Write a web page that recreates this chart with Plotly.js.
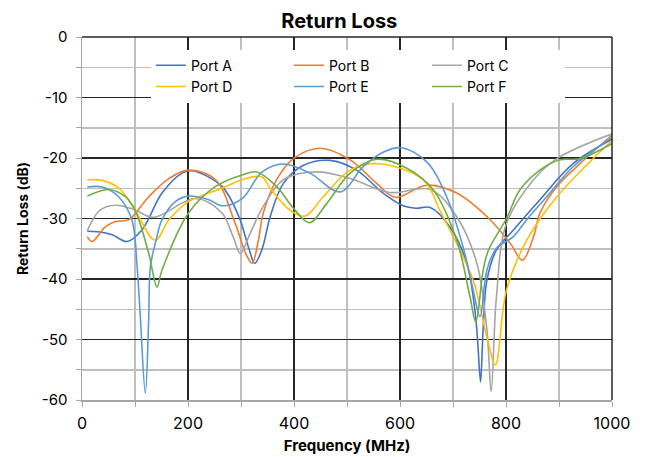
<!DOCTYPE html>
<html>
<head>
<meta charset="utf-8">
<script src="https://cdn.plot.ly/plotly-3.0.1.min.js"></script>
<style>html,body{margin:0;padding:0;background:#fff;}#chart{width:650px;height:457px;}</style>
</head>
<body>
<div id="chart"></div>
<script>
// ---- data (frequency in MHz, return loss in dB) ----
const seriesNames = ["Port A", "Port B", "Port C", "Port D", "Port E", "Port F"];
const seriesColors = ["#4472C4", "#ED7D31", "#A5A5A5", "#FFC000", "#5B9BD5", "#70AD47"];

const freqA = [10, 30, 57, 85, 113, 151, 189, 208, 264, 296, 315, 326, 340, 355, 380, 418, 468, 518, 568, 606, 630, 657, 694, 726, 742, 747, 752, 757, 764, 782, 814, 864, 927, 1000];
const lossA = [-32.1, -32.2, -32.7, -33.8, -31.9, -25.8, -22.5, -22.1, -24.7, -29.7, -35.0, -37.4, -35.0, -29.7, -24.2, -21.2, -20.4, -22.0, -25.8, -27.9, -28.3, -28.2, -31.4, -37.4, -45.7, -51.0, -57.0, -48.0, -40.2, -35.2, -31.9, -26.9, -20.9, -16.9];

const freqB = [10, 19, 44, 63, 88, 126, 164, 201, 252, 289, 310, 321, 333, 342, 367, 399, 449, 506, 556, 591, 650, 707, 770, 808, 831, 852, 864, 896, 940, 1000];
const lossB = [-33.0, -33.8, -31.4, -30.5, -30.2, -26.4, -23.4, -22.0, -23.6, -30.8, -36.0, -37.4, -33.5, -29.1, -23.6, -20.1, -18.4, -20.3, -24.2, -26.5, -24.5, -25.8, -30.2, -34.1, -36.9, -33.0, -29.1, -24.7, -20.9, -16.2];

const freqC = [10, 34, 65, 100, 135, 214, 264, 285, 299, 317, 342, 380, 443, 506, 581, 657, 707, 745, 764, 772, 782, 801, 852, 896, 1000];
const lossC = [-32.0, -28.6, -27.8, -28.6, -29.8, -26.7, -29.1, -33.0, -35.8, -32.5, -28.0, -23.6, -22.3, -23.4, -25.7, -25.2, -29.7, -37.4, -48.4, -58.6, -42.9, -30.8, -23.6, -20.1, -16.0];

const freqD = [10, 38, 70, 100, 138, 164, 201, 264, 302, 339, 355, 392, 421, 455, 506, 556, 644, 675, 694, 738, 765, 780, 801, 839, 896, 1000];
const lossD = [-23.6, -23.7, -25.0, -28.6, -33.6, -30.2, -27.2, -25.0, -23.6, -23.1, -25.0, -28.6, -29.6, -26.4, -22.0, -20.9, -23.6, -28.6, -31.9, -40.2, -50.0, -54.2, -41.8, -33.6, -26.4, -17.1];

const freqE = [10, 38, 69, 94, 104, 110, 119.5, 126, 129, 140, 151, 176, 201, 239, 264, 302, 340, 380, 430, 487, 531, 569, 602, 650, 688, 719, 738, 751, 764, 782, 814, 839, 877, 927, 1000];
const lossE = [-24.8, -24.8, -26.4, -30.2, -38.0, -46.2, -58.9, -46.2, -38.0, -33.5, -30.2, -27.2, -26.3, -26.9, -27.9, -26.7, -22.3, -21.0, -22.5, -25.6, -21.4, -19.0, -18.3, -20.6, -26.4, -34.7, -41.8, -46.2, -38.5, -34.9, -33.0, -30.2, -26.4, -21.4, -16.6];

const freqF = [10, 50, 82, 100, 126, 141.5, 151, 201, 252, 302, 330, 367, 399, 429, 462, 506, 556, 613, 663, 707, 732, 743, 757, 767, 801, 826, 864, 902, 940, 1000];
const lossF = [-26.3, -25.2, -26.4, -28.6, -35.8, -41.3, -38.5, -29.1, -24.7, -22.8, -22.3, -24.7, -28.3, -30.7, -27.5, -22.5, -20.2, -21.7, -25.3, -33.6, -42.9, -47.1, -38.5, -35.2, -30.0, -25.3, -22.0, -20.3, -20.1, -17.6];

const xTickVals = [0, 200, 400, 600, 800, 1000];
const xTickText = ["0", "200", "400", "600", "800", "1000"];
const yTickVals = [0, -10, -20, -30, -40, -50, -60];
const yTickText = ["0", "-10", "-20", "-30", "-40", "-50", "-60"];

const freqs = [freqA, freqB, freqC, freqD, freqE, freqF];
const losses = [lossA, lossB, lossC, lossD, lossE, lossF];

const FONT = "Inter, 'Noto Sans', sans-serif";

const traces = seriesNames.map((name, i) => ({
  type: "scatter",
  mode: "lines",
  name: name,
  x: freqs[i],
  y: losses[i],
  line: { color: seriesColors[i], width: 1.6, shape: "spline", smoothing: 1.0 },
  hoverinfo: "skip"
}));

const layout = {
  width: 650,
  height: 457,
  margin: { l: 82, r: 38, t: 37, b: 57 },
  paper_bgcolor: "#ffffff",
  plot_bgcolor: "#ffffff",
  font: { family: FONT, size: 15, color: "#000" },
  title: {
    text: "<b>Return Loss</b>",
    font: { family: FONT, size: 20, color: "#000" },
    x: 0.522, xanchor: "center",
    y: 0.955, yanchor: "middle", yref: "container"
  },
  showlegend: true,
  legend: {
    orientation: "h",
    x: 0.13, xanchor: "left",
    y: 0.965, yanchor: "top",
    bgcolor: "#ffffff",
    borderwidth: 0,
    entrywidth: 93,
    entrywidthmode: "pixels",
    itemwidth: 30,
    traceorder: "normal",
    font: { family: FONT, size: 14, color: "#000" }
  },
  shapes: [
    { type: "line", xref: "paper", yref: "paper", x0: 0, x1: 1, y0: 1, y1: 1, line: { color: "#262626", width: 1.5 } },
    { type: "line", xref: "paper", yref: "paper", x0: 1, x1: 1, y0: 0, y1: 1, line: { color: "#262626", width: 1.5 } }
  ],
  xaxis: {
    range: [0, 1000],
    tickvals: xTickVals,
    ticktext: xTickText,
    showgrid: true,
    gridcolor: "#262626",
    gridwidth: 1.5,
    minor: { dtick: 100, showgrid: true, gridcolor: "#bfbfbf", gridwidth: 1.5, ticks: "outside", ticklen: 5, tickcolor: "#a6a6a6" },
    ticks: "outside", ticklen: 5, tickcolor: "#a6a6a6",
    ticklabelstandoff: 3,
    showline: true, linecolor: "#a6a6a6", linewidth: 1.5,
    zeroline: false,
    tickfont: { family: FONT, size: 16, color: "#000" },
    title: { text: "<b>Frequency (MHz)</b>", font: { family: FONT, size: 15, color: "#000" }, standoff: 9 },
    automargin: false,
    fixedrange: true
  },
  yaxis: {
    range: [-60, 0],
    tickvals: yTickVals,
    ticktext: yTickText,
    showgrid: true,
    gridcolor: "#262626",
    gridwidth: 1.5,
    minor: { dtick: 5, showgrid: true, gridcolor: "#bfbfbf", gridwidth: 1.5, ticks: "outside", ticklen: 5, tickcolor: "#a6a6a6" },
    ticks: "outside", ticklen: 5, tickcolor: "#a6a6a6",
    ticklabelstandoff: 5,
    showline: true, linecolor: "#a6a6a6", linewidth: 1.5,
    zeroline: false,
    tickfont: { family: FONT, size: 15, color: "#000" },
    title: { text: "<b>Return Loss (dB)</b>", font: { family: FONT, size: 14, color: "#000" }, standoff: 9 },
    automargin: false,
    fixedrange: true
  }
};

Plotly.newPlot("chart", traces, layout, { staticPlot: true, displayModeBar: false });
</script>
</body>
</html>
